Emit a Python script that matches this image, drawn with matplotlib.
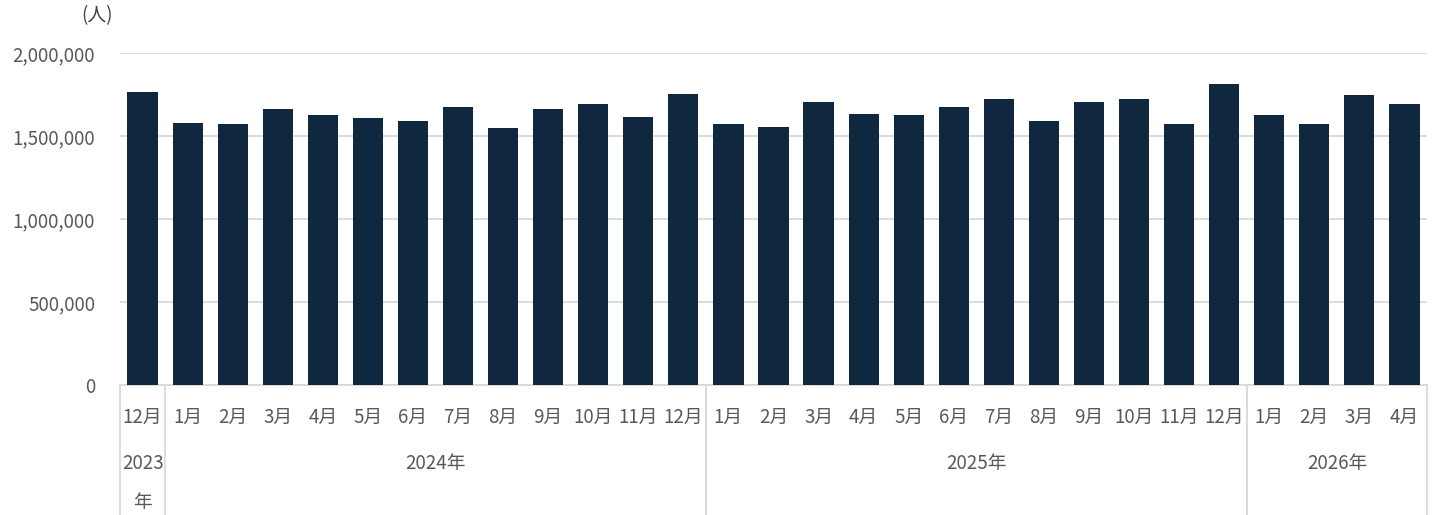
import matplotlib.pyplot as plt
import matplotlib.transforms as mtransforms
from matplotlib.ticker import FuncFormatter

plt.rcParams['font.family'] = ['Noto Sans CJK JP', 'DejaVu Sans']

months = ['12月',
          '1月', '2月', '3月', '4月', '5月', '6月', '7月', '8月', '9月', '10月', '11月', '12月',
          '1月', '2月', '3月', '4月', '5月', '6月', '7月', '8月', '9月', '10月', '11月', '12月',
          '1月', '2月', '3月', '4月']
visitors = [1765000,
            1576000, 1570000, 1661000, 1628000, 1610000, 1592000, 1673000, 1546000, 1661000,
            1691000, 1614000, 1753000,
            1570000, 1552000, 1703000, 1634000, 1628000, 1673000, 1721000, 1589000, 1703000,
            1721000, 1570000, 1811000,
            1628000, 1570000, 1749000, 1691000]
years = ['2023\n年', '2024年', '2025年', '2026年']
year_counts = [1, 12, 12, 4]

text_color = '#595959'
grid_color = '#d9d9d9'
bar_color = '#10283f'
fs = 13.5

W, H = 1434, 515
fig = plt.figure(figsize=(W / 100, H / 100), dpi=100)
ax = fig.add_axes([120 / W, (H - 385) / H, (1427 - 120) / W, (385 - 53) / H])

x = list(range(len(visitors)))
ax.bar(x, visitors, width=0.67, color=bar_color, zorder=3)

ax.set_xlim(-0.5, len(visitors) - 0.5)
ax.set_ylim(0, 2000000)
ax.set_yticks([0, 500000, 1000000, 1500000, 2000000])
ax.yaxis.set_major_formatter(FuncFormatter(lambda v, p: f'{int(v):,}'))
ax.grid(axis='y', color=grid_color, linewidth=1.3, zorder=0)
ax.tick_params(axis='y', length=0, pad=18, labelsize=fs, labelcolor=text_color)

ax.set_xticks(x)
ax.set_xticklabels(months)
ax.tick_params(axis='x', length=0, pad=16, labelsize=fs, labelcolor=text_color)

for s in ['top', 'right', 'left']:
    ax.spines[s].set_visible(False)
ax.spines['bottom'].set_color(grid_color)
ax.spines['bottom'].set_linewidth(1.3)

# year groups and separators below the axis
trans = mtransforms.blended_transform_factory(ax.transData, ax.transAxes)
px = 1 / (385 - 53)
start = -0.5
ax.plot([start, start], [0, -132 * px], color=grid_color, lw=1.3,
        transform=trans, clip_on=False)
for name, n in zip(years, year_counts):
    end = start + n
    ax.plot([end, end], [0, -132 * px], color=grid_color, lw=1.3,
            transform=trans, clip_on=False)
    ax.text((start + end) / 2, -68 * px, name, transform=trans, ha='center', va='top',
            fontsize=fs, color=text_color, linespacing=2.15)
    start = end

fig.text(97 / W, 1 - 16 / H, '(人)', ha='center', va='center', fontsize=fs, color='#404040')

fig.savefig('out.png', dpi=100)
